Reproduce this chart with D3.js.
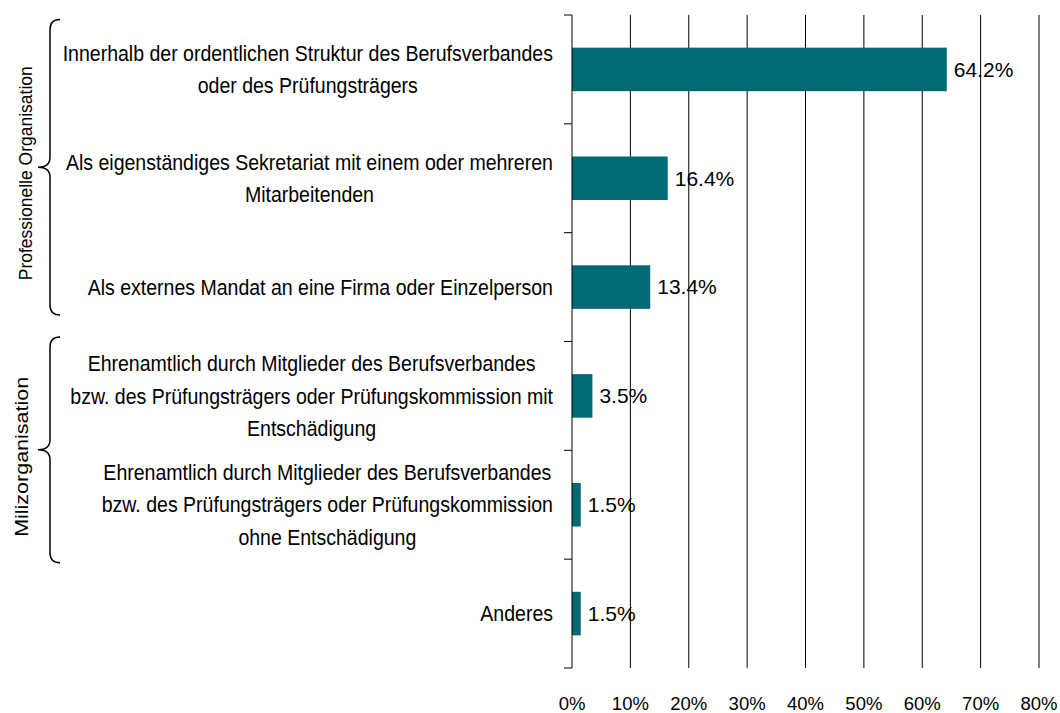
<!DOCTYPE html>
<html>
<head>
<meta charset="utf-8">
<script src="https://cdn.jsdelivr.net/npm/d3@7"></script>
<style>
  body { margin: 0; background: #fff; }
  text { font-family: "Liberation Sans", Arial, sans-serif; fill: #000; }
</style>
</head>
<body>
<div id="chart"></div>
<script>
// categories (one entry per line of each label) and values
const categories = [
  ["Innerhalb der ordentlichen Struktur des Berufsverbandes", "oder des Prüfungsträgers"],
  ["Als eigenständiges Sekretariat mit einem oder mehreren", "Mitarbeitenden"],
  ["Als externes Mandat an eine Firma oder Einzelperson"],
  ["Ehrenamtlich durch Mitglieder des Berufsverbandes", "bzw. des Prüfungsträgers oder Prüfungskommission mit", "Entschädigung"],
  ["Ehrenamtlich durch Mitglieder des Berufsverbandes", "bzw. des Prüfungsträgers oder Prüfungskommission", "ohne Entschädigung"],
  ["Anderes"]
];
const values = [64.2, 16.4, 13.4, 3.5, 1.5, 1.5];
const xTicks = [0, 10, 20, 30, 40, 50, 60, 70, 80];
const groupNames = ["Professionelle Organisation", "Milizorganisation"];
const groupRanges = [[0, 2], [3, 4]];

const W = 1060, H = 713;
const margin = {top: 15, right: 21, bottom: 45, left: 572};
const width = W - margin.left - margin.right,
    height = H - margin.top - margin.bottom;

// the category text looks a bit condensed
const squeeze = 0.9;

const svg = d3.select("#chart")
  .append("svg")
  .attr("width", W)
  .attr("height", H);

const g = svg.append("g")
  .attr("transform", `translate(${margin.left}, ${margin.top})`);

// scales
const x = d3.scaleLinear()
  .domain([0, 80])
  .range([0, width]);

const y = d3.scaleBand()
  .domain(d3.range(categories.length))
  .range([0, height])
  .paddingInner(0.6)
  .paddingOuter(0.3);

// full step for the tick marks between categories
const step = height / categories.length;

// vertical gridlines
g.selectAll(".grid")
  .data(xTicks.slice(1))
  .join("line")
  .attr("class", "grid")
  .attr("x1", d => x(d))
  .attr("x2", d => x(d))
  .attr("y1", 0)
  .attr("y2", height)
  .attr("stroke", "#000")
  .attr("stroke-width", 1);

// x tick labels
g.selectAll(".xlab")
  .data(xTicks)
  .join("text")
  .attr("class", "xlab")
  .attr("x", d => x(d))
  .attr("y", height + 42)
  .attr("text-anchor", "middle")
  .style("font-size", "18.5px")
  .text(d => d + "%");

// bars
g.selectAll(".bar")
  .data(values)
  .join("rect")
  .attr("class", "bar")
  .attr("x", 0)
  .attr("y", (d, i) => y(i))
  .attr("width", d => x(d))
  .attr("height", y.bandwidth())
  .attr("fill", "#006b75");

// value labels
g.selectAll(".val")
  .data(values)
  .join("text")
  .attr("class", "val")
  .attr("x", d => x(d) + 7)
  .attr("y", (d, i) => y(i) + y.bandwidth() / 2)
  .attr("dy", "0.35em")
  .style("font-size", "21px")
  .text(d => d.toFixed(1) + "%");

// left axis line and tick marks
g.append("line")
  .attr("x1", 0).attr("x2", 0)
  .attr("y1", 0).attr("y2", height)
  .attr("stroke", "#000");

g.selectAll(".ytick")
  .data(d3.range(categories.length + 1))
  .join("line")
  .attr("class", "ytick")
  .attr("x1", -8).attr("x2", 0)
  .attr("y1", d => d * step)
  .attr("y2", d => d * step)
  .attr("stroke", "#000");

// category labels: block right aligned, lines centred in the block
const lineH = 32.5;
const labelRight = -19;
categories.forEach((lines, i) => {
  const cy = y(i) + y.bandwidth() / 2;
  const wrap = g.append("g");
  const t = wrap.append("text")
    .attr("text-anchor", "middle")
    .style("font-size", "21.7px");
  lines.forEach((ln, j) => {
    t.append("tspan")
      .attr("x", 0)
      .attr("y", cy + (j - (lines.length - 1) / 2) * lineH)
      .attr("dy", "0.35em")
      .text(ln);
  });
  let maxW = 0;
  t.selectAll("tspan").each(function() {
    maxW = Math.max(maxW, this.getComputedTextLength());
  });
  wrap.attr("transform", `translate(${labelRight - maxW * squeeze / 2}, 0) scale(${squeeze}, 1)`);
});

// group braces and rotated group labels
const braceX = 50 - margin.left, tipX = 38 - margin.left;
const braceOffsets = [[-50, 28], [-59, 58]];
const groupFont = ["17.5px", "21.5px"];
const groupSqueeze = [1, 0.85];
const groupLabelX = [26, 22];
groupRanges.forEach((r, k) => {
  const top = y(r[0]) + y.bandwidth() / 2 + braceOffsets[k][0];
  const bot = y(r[1]) + y.bandwidth() / 2 + braceOffsets[k][1];
  const mid = (top + bot) / 2;
  const c = 10;
  const path = d3.path();
  path.moveTo(braceX + 10, top);
  path.quadraticCurveTo(braceX, top, braceX, top + c);
  path.lineTo(braceX, mid - c);
  path.quadraticCurveTo(braceX, mid, tipX, mid);
  path.quadraticCurveTo(braceX, mid, braceX, mid + c);
  path.lineTo(braceX, bot - c);
  path.quadraticCurveTo(braceX, bot, braceX + 10, bot);
  g.append("path")
    .attr("d", path.toString())
    .attr("fill", "none")
    .attr("stroke", "#000")
    .attr("stroke-width", 1.5);

  g.append("text")
    .attr("transform", `translate(${groupLabelX[k] - margin.left}, ${mid + (k === 0 ? 6 : 7)}) scale(${groupSqueeze[k]}, 1) rotate(-90)`)
    .attr("text-anchor", "middle")
    .attr("dy", "0.35em")
    .style("font-size", groupFont[k])
    .text(groupNames[k]);
});
</script>
</body>
</html>
